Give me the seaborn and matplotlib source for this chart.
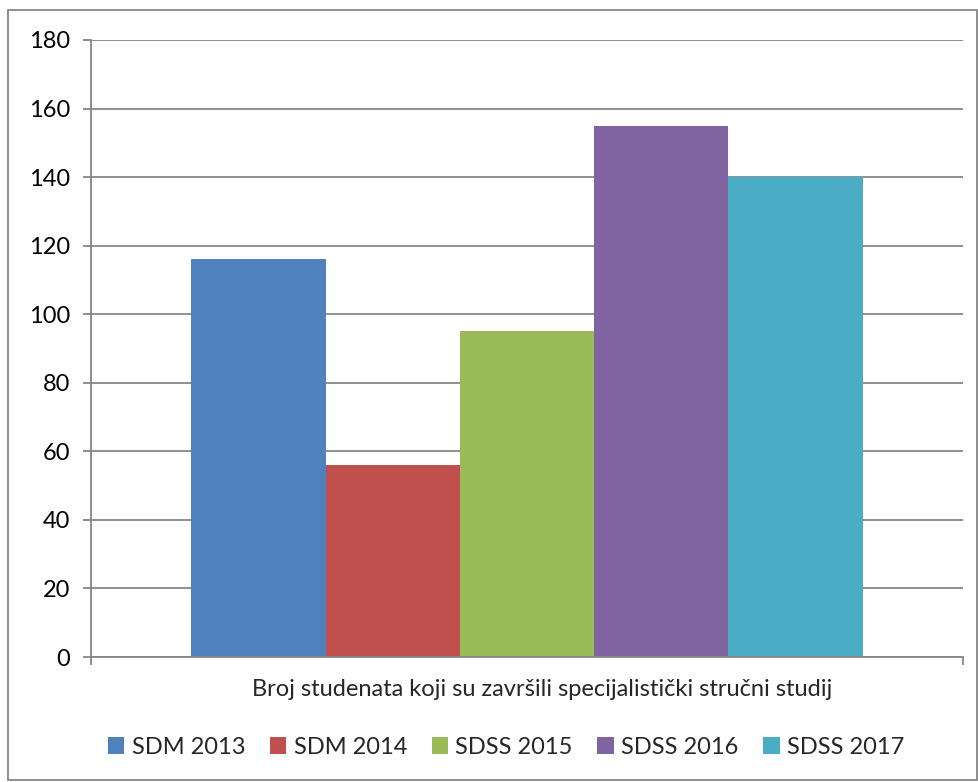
import matplotlib
matplotlib.use("Agg")
import matplotlib.pyplot as plt
import seaborn as sns
import pandas as pd
from matplotlib.patches import Rectangle

categories = ["Broj studenata koji su završili specijalistički stručni studij"]
series = ["SDM 2013", "SDM 2014", "SDSS 2015", "SDSS 2016", "SDSS 2017"]
values = [116, 56, 95, 155, 140]
colors = ["#4F81BD", "#C0504D", "#9BBB59", "#8064A2", "#4BACC6"]
yticks = [0, 20, 40, 60, 80, 100, 120, 140, 160, 180]

sns.set_theme(style="white")
plt.rcParams["font.family"] = ["Lato", "DejaVu Sans"]

df = pd.DataFrame({"cat": categories * len(series), "series": series, "value": values})

fig = plt.figure(figsize=(9.79, 7.82), dpi=100)
ax = fig.add_axes([91/979, 125/782, (963-91)/979, (657-40)/782])

sns.barplot(data=df, x="cat", y="value", hue="series", hue_order=series,
            palette=colors, width=0.77, saturation=1, ax=ax, legend=False,
            edgecolor="none", linewidth=0)

FS = 17
ax.set_xlim(-0.5, 0.5)
ax.set_ylim(0, 180)
ax.set_yticks(yticks)
ax.set_yticklabels([str(t) for t in yticks], fontsize=FS, color="black")
ax.yaxis.grid(True, color="#868686", linewidth=1.3)
ax.set_axisbelow(True)
for s in ["top", "right"]:
    ax.spines[s].set_visible(False)
for s in ["left", "bottom"]:
    ax.spines[s].set_color("#868686")
    ax.spines[s].set_linewidth(1.3)
ax.tick_params(axis="y", which="both", left=True, length=6, width=1.3, color="#868686", pad=9)
ax.set_xticks([-0.5, 0.5])
ax.set_xticklabels(["", ""])
ax.tick_params(axis="x", bottom=True, length=6, width=1.3, color="#868686")
ax.set_xlabel("")
ax.set_ylabel("")

fig.text(542/979, 1 - 690/782, categories[0], ha="center", va="center", fontsize=FS)

handles = [Rectangle((0, 0), 1, 1, facecolor=c, edgecolor="none") for c in colors]
fig.legend(handles, series, loc="center", bbox_to_anchor=(506/979, 1 - 747/782), ncol=5,
           frameon=False, fontsize=FS, handlelength=0.7, handleheight=0.7,
           handletextpad=0.3, columnspacing=1.05)

fig.patches.append(Rectangle((8/979, 2/782), (977-8)/979, (772-2)/782 + 0.0,
                             transform=fig.transFigure, fill=False,
                             edgecolor="#868686", linewidth=1.3))

fig.savefig("out.png", dpi=100)
